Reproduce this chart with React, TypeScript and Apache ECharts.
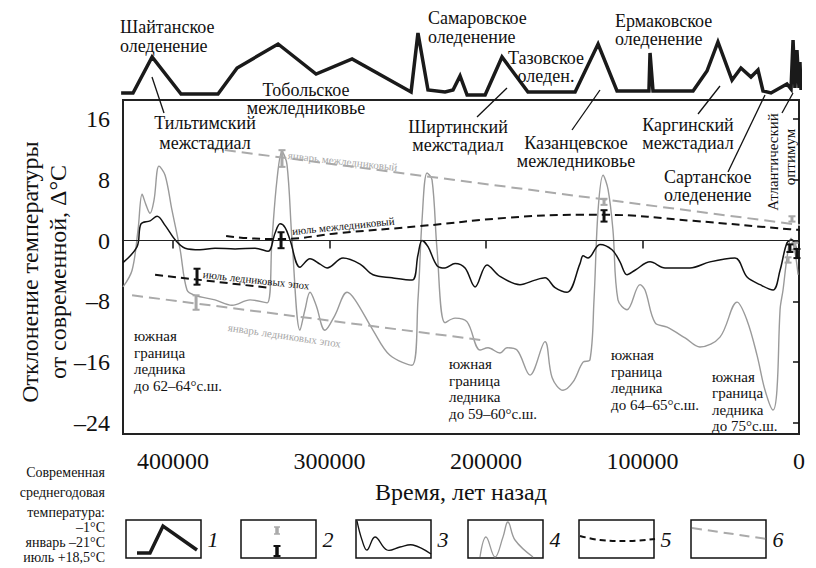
import React, { useEffect, useRef } from "react";
import * as echarts from "echarts";

const FONT = "Liberation Serif";

const xTickValues = [0, 100000, 200000, 300000, 400000];
const yTickValues = [-24, -16, -8, 0, 8, 16];

// curve 1: glaciation stages (arbitrary extent units)
const glaciation: number[][] = [
  [433200, 2], [425600, 2], [413400, 38], [394900, 1], [371300, 1], [359100, 27], [332900, 51],
  [308600, 21], [285600, 36], [247900, 3], [243500, 62], [237100, 5], [226200, 3], [221100, 5],
  [216600, 19], [212100, 0], [200600, 0], [189800, 38], [173200, 3], [143100, 3], [128400, 51],
  [116300, 4], [95900, 4], [95200, 42], [93300, 4], [67700, 4], [58800, 24], [51800, 53],
  [42800, 15], [37100, 27], [30700, 18], [26200, 25], [23000, 4], [17900, 2], [7700, 11],
  [5100, 6], [3800, 55], [2600, 7], [1300, 45], [0, 7], [-600, 33], [-1300, 5],
];

// curve 3: mean annual temperature anomaly
const annualTemp: number[][] = [
  [432000, -2.9], [423000, -0.8], [420500, 2.2], [414700, 2.6], [410200, 3.2], [405100, 2.0],
  [398700, 0.1], [392300, -1.0], [382800, -1.2], [373200, -1.0], [360400, -1.1], [347600, -1.0],
  [339300, -1.4], [334800, 1.0], [331600, 2.2], [328400, 1.7], [325300, 0.1], [318900, -3.5],
  [312500, -2.4], [306100, -3.1], [301600, -3.6], [291400, -2.3], [280500, -3.1], [272200, -4.5],
  [260100, -4.9], [247300, -5.2], [243500, -1.9], [240900, 0.0], [237100, -0.8], [231300, -3.3],
  [226200, -3.6], [219800, -3.0], [213400, -3.6], [207000, -6.1], [199400, -3.2], [191100, -4.7],
  [178300, -5.8], [168700, -5.2], [162300, -4.9], [155900, -6.2], [148200, -6.8], [139900, -3.0],
  [138000, -2.0], [134800, -2.3], [127200, -0.5], [119500, -1.2], [114400, -2.8], [109900, -4.5],
  [104800, -3.9], [95200, -2.8], [85600, -3.6], [69700, -3.6], [56900, -2.8], [40900, -2.3],
  [33200, -4.8], [24900, -5.8], [16600, -6.5], [12100, -3.9], [7700, -0.3], [4500, 0.1], [1300, -1.5],
];

// curve 4: January temperature anomaly
const januaryTemp: number[][] = [
  [432000, -6.1], [426200, -3.9], [422400, 1.4], [419800, 6.1], [417300, 4.7], [414700, 3.6],
  [412200, 5.3], [409000, 9.8], [405100, 8.6], [400700, 4.0], [395500, -1.2], [391100, -6.5],
  [386000, -7.2], [373200, -7.8], [362300, -8.5], [350800, -7.8], [339900, -8.2], [336800, 0.1],
  [333600, 8.0], [330400, 11.7], [327200, 10.0], [324000, 0.1], [318900, -11.8], [315700, -9.1],
  [312500, -6.8], [308600, -8.5], [302900, -11.8], [296500, -9.8], [288800, -6.8], [283700, -7.8],
  [272200, -11.8], [261400, -15.1], [247300, -16.4], [243500, -7.8], [240900, 2.7], [237700, 8.9],
  [234500, 8.0], [231300, -1.2], [226200, -10.8], [219800, -10.2], [212100, -10.7], [203800, -14.4],
  [198700, -14.1], [191100, -14.8], [186600, -14.1], [180200, -14.4], [171900, -17.7], [162300, -13.3],
  [157800, -18.0], [150800, -19.7], [144400, -18.6], [138000, -16.0], [133600, -15.7], [131000, -7.8],
  [128400, 4.0], [125200, 8.6], [122000, 6.7], [118900, 1.4], [115700, -7.8], [109900, -9.1],
  [101600, -5.8], [98400, -6.5], [92000, -10.8], [84300, -11.4], [72800, -12.8], [63300, -14.0],
  [50500, -12.7], [39600, -8.1], [33200, -10.5], [26800, -15.1], [21700, -19.7], [16600, -22.3],
  [14100, -19.7], [12100, -9.1], [10200, -6.5], [7700, -2.3], [5100, 0.3], [2600, -1.5], [600, -4.5],
];

// curve 5: July trends
const julyInterglacial: number[][] = [
  [366100, 0.6], [350800, 0.3], [331600, 0.2], [293300, 1.0], [242200, 1.9], [186600, 3.0],
  [139900, 3.4], [125200, 3.4], [67700, 2.6], [5800, 1.5], [-10900, 1.3],
];
const julyGlacial: number[][] = [[411500, -4.5], [339300, -6.2]];

// curve 6: January trends
const januaryInterglacial: number[][] = [[377700, 12.2], [-10200, 1.8]];
const januaryGlacial: number[][] = [[426200, -7.2], [202600, -13.1]];

// 2: reconstruction ranges [time, low, high]
const julyRanges: number[][] = [
  [384700, -5.8, -3.7], [331000, -1.0, 1.1], [124600, 2.5, 4.0], [5800, -1.5, -0.5], [1300, -2.3, -1.1],
];
const januaryRanges: number[][] = [
  [385300, -9.1, -7.2], [330400, 9.7, 11.9], [124600, 4.7, 5.5], [4500, 2.5, 3.2], [7000, -2.9, -2.2], [2600, -1.2, -0.3],
];

const stageLabels = [
  { text: "Шайтанское\nоледенение", x: 120, y: 36, align: "left", lh: 19 },
  { text: "Тобольское\nмежледниковье", x: 306, y: 99, align: "center", lh: 18.5 },
  { text: "Тильтимский\nмежстадиал", x: 205, y: 133, align: "center", lh: 20 },
  { text: "Самаровское\nоледенение", x: 428, y: 27.5, align: "left", lh: 19 },
  { text: "Тазовское\nоледен.", x: 546, y: 67, align: "center", lh: 18 },
  { text: "Ермаковское\nоледенение", x: 615, y: 30, align: "left", lh: 18 },
  { text: "Ширтинский\nмежстадиал", x: 458, y: 136, align: "center", lh: 18 },
  { text: "Казанцевское\nмежледниковье", x: 576, y: 151.5, align: "center", lh: 18 },
  { text: "Каргинский\nмежстадиал", x: 688, y: 134, align: "center", lh: 18 },
  { text: "Сартанское\nоледенение", x: 664, y: 186, align: "left", lh: 18 },
];

const leaders = [
  [152, 77, 164, 113], [507, 88, 477, 117], [600, 90, 572, 130],
  [720, 86, 698, 114], [765, 95, 728, 172], [793, 93, 782, 113],
];

const iceLimits = [
  { text: "южная\nграница\nледника\nдо 62–64°с.ш.", x: 134, y: 361 },
  { text: "южная\nграница\nледника\nдо 59–60°с.ш.", x: 449, y: 389 },
  { text: "южная\nграница\nледника\nдо 64–65°с.ш.", x: 611, y: 380 },
  { text: "южная\nграница\nледника\nдо 75°с.ш.", x: 712, y: 401.5 },
];

const trendLabels = [
  { text: "январь межледниковый", x: 288, y: 155, rot: -0.11, color: "#a8a8a8" },
  { text: "июль межледниковый", x: 292, y: 231, rot: 0.1, color: "#111" },
  { text: "июль ледниковых эпох", x: 203, y: 274, rot: -0.108, color: "#111" },
  { text: "январь ледниковых эпох", x: 228, y: 327, rot: -0.147, color: "#a8a8a8" },
];

const presentLines = [
  { text: "Современная", y: 472 },
  { text: "среднегодовая", y: 492 },
  { text: "температура:", y: 512 },
  { text: "–1°C", y: 527 },
  { text: "январь –21°C", y: 542 },
  { text: "июль +18,5°C", y: 557 },
];

const legendNumbers = ["1", "2", "3", "4", "5", "6"];

const FONT_CSS = "#chart-host svg text, #chart-host svg tspan { font-family: 'Liberation Serif', 'Times New Roman', serif !important; }";

export default function App() {
  const ref = useRef<HTMLDivElement>(null);

  useEffect(() => {
    const chart = echarts.init(ref.current!, null, { renderer: "svg" });

    const txt = (text: string, x: number, y: number, o: any = {}) => {
      const style: any = {
        text,
        fontSize: o.fontSize || 18,
        fontFamily: FONT,
        fill: o.fill || "#111",
        align: o.align || "left",
        verticalAlign: "middle",
      };
      if (o.fontStyle) style.fontStyle = o.fontStyle;
      if (o.lh) style.lineHeight = o.lh;
      return { type: "text", x, y, rotation: o.rotation || 0, z: 20, style };
    };
    const seg = (x1: number, y1: number, x2: number, y2: number, stroke = "#111", lineWidth = 1.3) => ({
      type: "line",
      z: 20,
      shape: { x1, y1, x2, y2 },
      style: { stroke, lineWidth },
    });

    const barRender = (color: string) => (_p: any, api: any) => {
      const t = api.value(0);
      const top = api.coord([t, api.value(2)]);
      const bot = api.coord([t, api.value(1)]);
      const w = 3.5;
      return {
        type: "group",
        children: [
          { type: "line", shape: { x1: top[0], y1: top[1], x2: bot[0], y2: bot[1] }, style: { stroke: color, lineWidth: 3 } },
          { type: "line", shape: { x1: top[0] - w, y1: top[1], x2: top[0] + w, y2: top[1] }, style: { stroke: color, lineWidth: 2 } },
          { type: "line", shape: { x1: bot[0] - w, y1: bot[1], x2: bot[0] + w, y2: bot[1] }, style: { stroke: color, lineWidth: 2 } },
        ],
      };
    };

    const legendX = [126, 241, 356, 468, 579, 691];
    const graphics: any[] = [];
    stageLabels.forEach((s) => graphics.push(txt(s.text, s.x, s.y, { align: s.align, lh: s.lh })));
    leaders.forEach((l) => graphics.push(seg(l[0], l[1], l[2], l[3])));
    graphics.push(txt("Атлантический", 773, 162, { rotation: Math.PI / 2, align: "center", fontSize: 15 }));
    graphics.push(txt("оптимум", 790, 157, { rotation: Math.PI / 2, align: "center", fontSize: 15 }));
    iceLimits.forEach((s) => graphics.push(txt(s.text, s.x, s.y, { fontSize: 15, lh: 16.5 })));
    trendLabels.forEach((s) => graphics.push(txt(s.text, s.x, s.y, { fontSize: 11, rotation: s.rot, fill: s.color })));
    presentLines.forEach((s) => graphics.push(txt(s.text, 105, s.y, { fontSize: 14, align: "right" })));
    graphics.push(
      txt("Отклонение температуры\nот современной, Δ°C", 44, 272, { rotation: Math.PI / 2, align: "center", fontSize: 24, lh: 28 })
    );
    legendX.forEach((x, i) => {
      graphics.push({
        type: "rect",
        z: 20,
        shape: { x, y: 520, width: 75, height: 38 },
        style: { fill: "none", stroke: "#111", lineWidth: 1.5 },
      });
      graphics.push(txt(legendNumbers[i], x + 87, 539, { fontSize: 22, fontStyle: "italic", align: "center" }));
    });
    graphics.push({
      type: "polyline", z: 21,
      shape: { points: [[137, 553], [150, 553], [163, 526], [197, 550]] },
      style: { stroke: "#1a1a1a", lineWidth: 3.5, fill: "none" },
    });
    graphics.push(seg(277, 527, 277, 534, "#aaa", 3.5));
    graphics.push(seg(274, 527, 280, 527, "#aaa", 1.5));
    graphics.push(seg(274, 534, 280, 534, "#aaa", 1.5));
    graphics.push(seg(277, 546, 277, 556, "#111", 3.5));
    graphics.push(seg(273.5, 546, 280.5, 546, "#111", 2));
    graphics.push(seg(273.5, 556, 280.5, 556, "#111", 2));
    graphics.push({
      type: "polyline", z: 21,
      shape: { points: [[357, 521], [362, 540], [367, 550], [375, 537], [387, 550], [400, 547], [413, 545], [431, 554]], smooth: 0.4 },
      style: { stroke: "#111", lineWidth: 1.3, fill: "none" },
    });
    graphics.push({
      type: "polyline", z: 21,
      shape: { points: [[480, 557], [486, 537], [495, 557], [503, 537], [508, 522], [515, 540], [533, 557]], smooth: 0.4 },
      style: { stroke: "#999", lineWidth: 1.3, fill: "none" },
    });
    graphics.push({
      type: "polyline", z: 21,
      shape: { points: [[580, 536], [600, 540], [630, 541], [655, 539]], smooth: 0.4 },
      style: { stroke: "#111", lineWidth: 2, fill: "none", lineDash: [6, 4] },
    });
    graphics.push({
      type: "line", z: 21,
      shape: { x1: 692, y1: 528, x2: 767, y2: 539 },
      style: { stroke: "#aaa", lineWidth: 2, lineDash: [10, 6] },
    });

    const option: any = {
      animation: false,
      textStyle: { fontFamily: FONT },
      grid: [
        { left: 123, right: 17, top: 100, bottom: 134, show: true, borderColor: "#222", borderWidth: 2, backgroundColor: "transparent" },
        { left: 123, right: 17, top: 10, height: 85, show: false },
      ],
      xAxis: [
        {
          type: "value", gridIndex: 0, min: 0, max: 432000, interval: 100000, inverse: true,
          axisLine: { show: false },
          axisTick: { show: true, inside: false, length: 8, lineStyle: { color: "#111", width: 1.5 } },
          axisLabel: { fontSize: 24, fontFamily: FONT, color: "#111", margin: 15, formatter: (v: number) => String(v) },
          splitLine: { show: false },
          name: "Время, лет назад", nameLocation: "middle", nameGap: 46,
          nameTextStyle: { fontSize: 24, fontFamily: FONT, color: "#111" },
        },
        { type: "value", gridIndex: 1, min: 0, max: 432000, inverse: true, show: false },
      ],
      yAxis: [
        {
          type: "value", gridIndex: 0, min: -25.45, max: 18.5,
          axisLine: { show: false },
          axisTick: { show: true, inside: false, length: 6, lineStyle: { color: "#111", width: 1.5 }, customValues: yTickValues },
          axisLabel: {
            fontSize: 24, fontFamily: FONT, color: "#111", margin: 13, customValues: yTickValues,
            formatter: (v: number) => String(v).replace("-", "–"),
          },
          splitLine: { show: false },
        },
        { type: "value", gridIndex: 1, min: 0, max: 85, show: false },
      ],
      series: [
        {
          name: "1", type: "line", xAxisIndex: 1, yAxisIndex: 1, data: glaciation, symbol: "none", clip: false,
          lineStyle: { color: "#1a1a1a", width: 3.5, join: "miter" }, z: 3,
        },
        {
          name: "4", type: "line", data: januaryTemp, symbol: "none", smooth: 0.35, clip: false,
          lineStyle: { color: "#9a9a9a", width: 1.4 }, z: 2,
        },
        {
          name: "3", type: "line", data: annualTemp, symbol: "none", smooth: 0.35, clip: false,
          lineStyle: { color: "#111", width: 1.5 }, z: 3,
          markLine: {
            silent: true, symbol: "none", label: { show: false },
            lineStyle: { color: "#222", width: 1, type: "solid" },
            data: [{ yAxis: 0 }],
          },
        },
        {
          name: "6a", type: "line", data: januaryInterglacial, symbol: "none", clip: false,
          lineStyle: { color: "#aaa", width: 2, type: [11, 6] }, z: 4,
        },
        {
          name: "6b", type: "line", data: januaryGlacial, symbol: "none", clip: false,
          lineStyle: { color: "#aaa", width: 2, type: [11, 6] }, z: 4,
        },
        {
          name: "5a", type: "line", data: julyInterglacial, symbol: "none", smooth: 0.4, clip: false,
          lineStyle: { color: "#111", width: 2, type: [8, 5] }, z: 4,
        },
        {
          name: "5b", type: "line", data: julyGlacial, symbol: "none", clip: false,
          lineStyle: { color: "#111", width: 2, type: [8, 5] }, z: 4,
        },
        {
          name: "2g", type: "custom", data: januaryRanges, renderItem: barRender("#a8a8a8"),
          encode: { x: 0, y: [1, 2] }, clip: false, z: 6,
        },
        {
          name: "2b", type: "custom", data: julyRanges, renderItem: barRender("#111"),
          encode: { x: 0, y: [1, 2] }, clip: false, z: 7,
        },
      ],
      graphic: graphics,
    };

    chart.setOption(option, true);
    return () => chart.dispose();
  }, []);

  return (
    <div id="chart-host" style={{ position: "absolute", left: 0, top: 0, width: 816, height: 568, overflow: "hidden" }}>
      <style>{FONT_CSS}</style>
      <div ref={ref} style={{ width: 816, height: 568 }} />
    </div>
  );
}
